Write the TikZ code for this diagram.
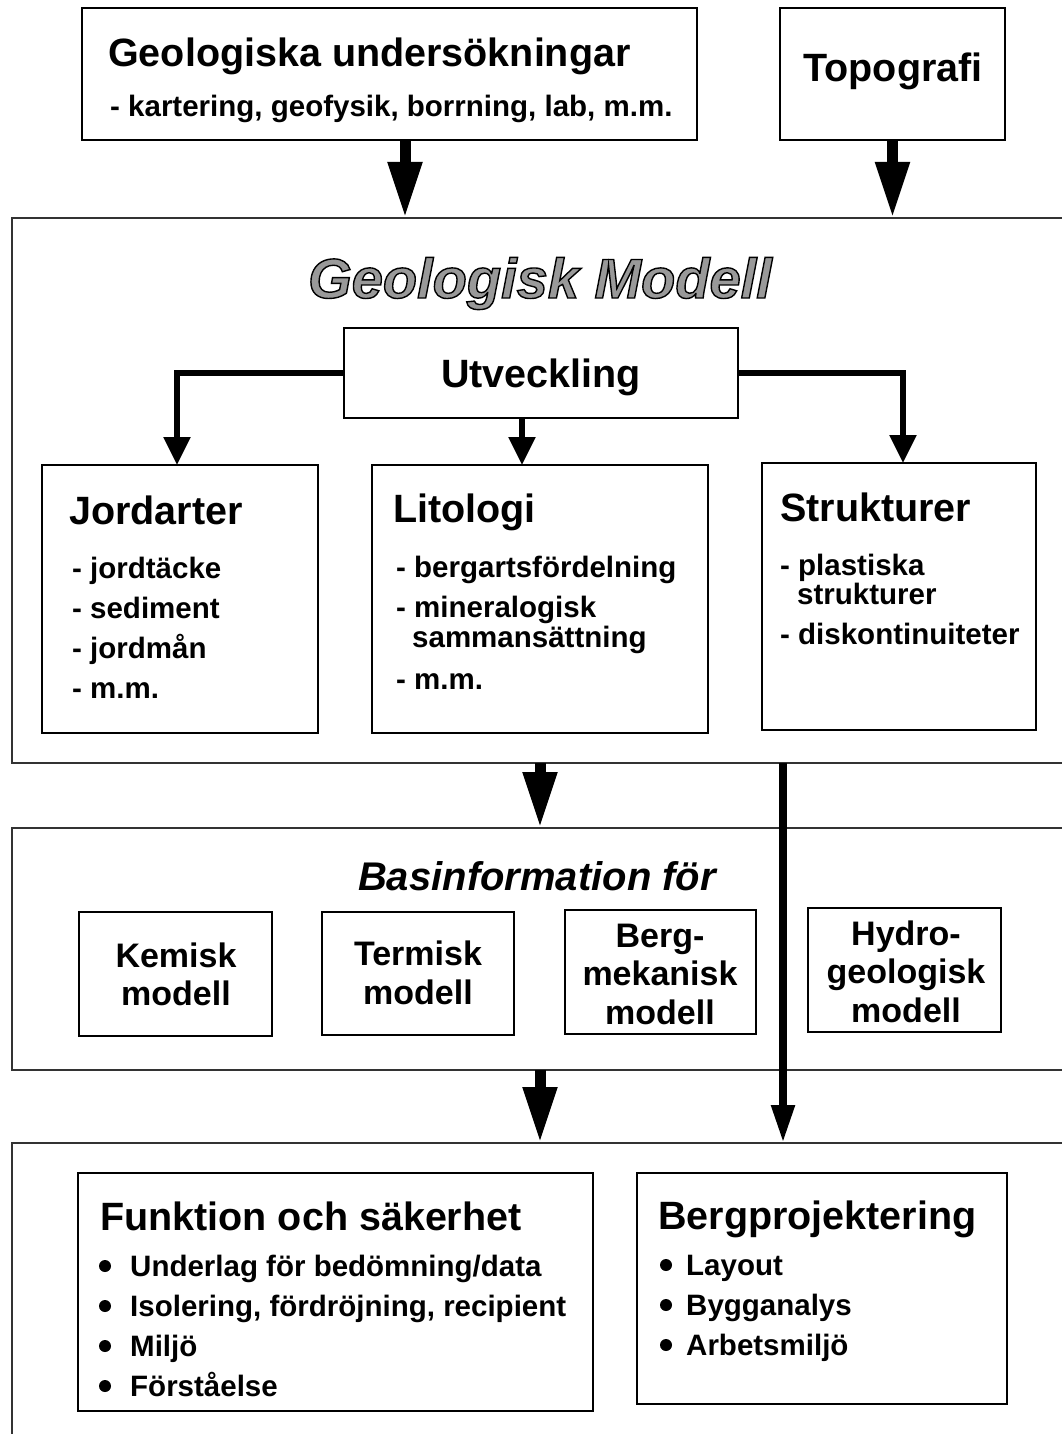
\documentclass[tikz,border=0pt]{standalone}
\usepackage{fontspec}
\setmainfont{Liberation Sans}
\usetikzlibrary{arrows.meta,calc}

% text drawn as filled outline (fill = current colour, stroke = black)
\newcommand\outlined[1]{\special{pdf:literal direct 2 Tr 1.4 w 0 0 0 RG}#1\special{pdf:literal direct 0 Tr}}

% rectangle node given by its corners: style, name, x1, y1, x2, y2
\newcommand\areabox[6]{\node[#1, minimum width={(#5-#3)*1pt}, minimum height={(#6-#4)*1pt}] (#2) at ({(#3+#5)/2},{(#4+#6)/2}) {};}

\tikzset{
  box/.style={draw=black, line width=2.6pt, fill=white, inner sep=0pt, outer sep=0pt},
  panel/.style={draw=black!80, line width=2pt, inner sep=0pt, outer sep=0pt},
  head/.style={font=\fontsize{39.5}{40}\selectfont\bfseries, inner sep=0pt, anchor=base west},
  item/.style={font=\fontsize{29.5}{30}\selectfont\bfseries, inner sep=0pt, anchor=base west},
  modeltxt/.style={font=\fontsize{34}{34}\selectfont\bfseries, inner sep=0pt, anchor=base},
  fatarrow/.style={line width=11pt, -{Triangle[width=32pt,length=56pt]}},
  thinarrow/.style={line width=8pt, -{Triangle[width=22pt,length=38pt]}},
  branch/.style={line width=5.5pt, -{Triangle[width=26pt,length=28pt]}},
  dot/.style={fill=black},
}

\begin{document}
\begin{tikzpicture}[x=1pt,y=-1pt]
\useasboundingbox (0,0) rectangle (1062,1434);
\fill[white] (0,0) rectangle (1062,1434);

% ---- panels ----
\areabox{panel}{panelA}{12}{218}{1075}{763}
\areabox{panel}{panelB}{12}{828}{1075}{1070}
\areabox{panel}{panelC}{12}{1143}{1075}{1445}

% ---- boxes ----
\areabox{box}{unders}{82}{8}{697}{140}
\areabox{box}{topo}{780}{8}{1005}{140}
\areabox{box}{utv}{344}{328}{738}{418}
\areabox{box}{jord}{42}{465}{318}{733}
\areabox{box}{lit}{372}{465}{708}{733}
\areabox{box}{strukt}{762}{463}{1036}{730}
\areabox{box}{kem}{79}{912}{272}{1036}
\areabox{box}{term}{322}{912}{514}{1035}
\areabox{box}{berg}{565}{910}{756}{1034}
\areabox{box}{hydro}{808}{908}{1001}{1032}
\areabox{box}{funk}{78}{1173}{593}{1411}
\areabox{box}{bproj}{637}{1173}{1007}{1404}

% ---- top boxes ----
\node[head] (t-unders) at (108,67) {Geologiska undersökningar};
\node[item] (s-unders) at (110,117) {- kartering, geofysik, borrning, lab, m.m.};
\node[head, anchor=base] (t-topo) at (893,82) {Topografi};

% ---- geological model ----
\node[anchor=base, inner sep=0pt, text=black!40,
      font=\fontsize{56}{56}\selectfont\bfseries\itshape] (t-model) at (540,298)
      {\outlined{Geologisk Modell}};
\node[head, anchor=base] (t-utv) at (541,387) {Utveckling};

\node[head] (t-jord) at (69,524) {Jordarter};
\node[item] (jord1) at (72,578) {- jordtäcke};
\node[item] (jord2) at (72,618) {- sediment};
\node[item] (jord3) at (72,658) {- jordmån};
\node[item] (jord4) at (72,698) {- m.m.};

\node[head] (t-lit) at (393,522) {Litologi};
\node[item] (lit1) at (396,577) {- bergartsfördelning};
\node[item] (lit2) at (396,617) {- mineralogisk};
\node[item] (lit3) at (412,647) {sammansättning};
\node[item] (lit4) at (396,689) {- m.m.};

\node[head] (t-strukt) at (780,521) {Strukturer};
\node[item] (str1) at (780,575) {- plastiska};
\node[item] (str2) at (797,604) {strukturer};
\node[item] (str3) at (780,644) {- diskontinuiteter};

% ---- base information ----
\node[anchor=base, inner sep=0pt, font=\fontsize{40}{40}\selectfont\bfseries\itshape]
      (t-bas) at (537,890) {Basinformation för};
\node[modeltxt] (kem1) at (176,967) {Kemisk};
\node[modeltxt] (kem2) at (176,1005) {modell};
\node[modeltxt] (term1) at (418,965) {Termisk};
\node[modeltxt] (term2) at (418,1004) {modell};
\node[modeltxt] (berg1) at (660,947) {Berg-};
\node[modeltxt] (berg2) at (660,985) {mekanisk};
\node[modeltxt] (berg3) at (660,1024) {modell};
\node[modeltxt] (hydro1) at (906,945) {Hydro-};
\node[modeltxt] (hydro2) at (906,983) {geologisk};
\node[modeltxt] (hydro3) at (906,1022) {modell};

% ---- applications ----
\node[head] (t-funk) at (100,1230) {Funktion och säkerhet};
\node[item] (funk1) at (130,1276) {Underlag för bedömning/data};
\node[item] (funk2) at (130,1316) {Isolering, fördröjning, recipient};
\node[item] (funk3) at (130,1356) {Miljö};
\node[item] (funk4) at (130,1396) {Förståelse};
\foreach \yy in {1266,1306,1346,1386} \fill[dot] (105,\yy) circle (6pt);

\node[head] (t-bproj) at (658,1229) {Bergprojektering};
\node[item] (bproj1) at (686,1275) {Layout};
\node[item] (bproj2) at (686,1315) {Bygganalys};
\node[item] (bproj3) at (686,1355) {Arbetsmiljö};
\foreach \yy in {1265,1305,1345} \fill[dot] (666,\yy) circle (6pt);

% ---- connectors ----
\draw[fatarrow] ([xshift=15.5pt]unders.south) -- ([xshift=15.5pt]unders.south |- panelA.north);
\draw[fatarrow] (topo.south) -- (topo.south |- panelA.north);
\draw[branch] (utv.west) -| ([xshift=-3pt]jord.north);
\draw[branch] ([xshift=-18pt]lit.north |- utv.south) -- ([xshift=-18pt]lit.north);
\draw[branch] (utv.east) -| ([xshift=4pt]strukt.north);
\draw[fatarrow] (panelA.south -| lit.north) -- (panelB.north -| lit.north);
\draw[fatarrow] (panelB.south -| lit.north) -- (panelC.north -| lit.north);
\draw[thinarrow] ([xshift=21pt]panelA.south -| strukt.west) -- ([xshift=21pt]panelC.north -| strukt.west);
\end{tikzpicture}
\end{document}
